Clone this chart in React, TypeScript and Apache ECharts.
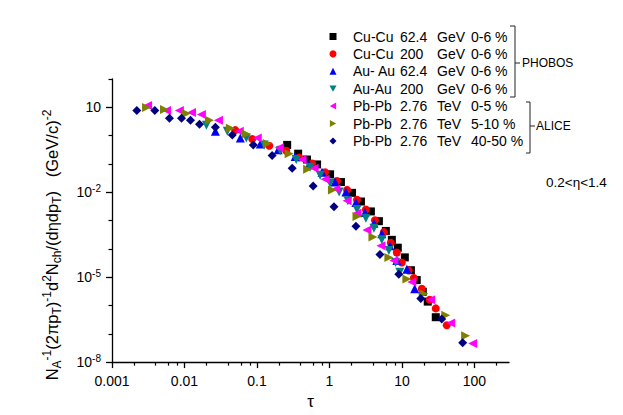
import React, { useEffect, useRef } from 'react';
import * as echarts from 'echarts';

const FONT = '"Liberation Sans", Arial, Helvetica, sans-serif';

// legend text columns
const legendParts: string[][] = [
  ['Cu-Cu', '62.4', 'GeV', '0-6 %'],
  ['Cu-Cu', '200', 'GeV', '0-6 %'],
  ['Au- Au', '62.4', 'GeV', '0-6 %'],
  ['Au-Au', '200', 'GeV', '0-6 %'],
  ['Pb-Pb', '2.76', 'TeV', '0-5 %'],
  ['Pb-Pb', '2.76', 'TeV', '5-10 %'],
  ['Pb-Pb', '2.76', 'TeV', '40-50 %'],
];
const seriesNames = legendParts.map((p) => p.join(' '));

// [tau, yield]
const cuCu62: number[][] = [
  [0.261, 0.47], [0.37, 0.23], [0.49, 0.143], [0.675, 0.096], [1.02, 0.043], [1.44, 0.0229],
  [2.05, 0.0095], [2.72, 0.0047], [3.73, 0.0021], [4.81, 0.00095], [6.0, 0.00043], [7.26, 0.000208],
  [8.77, 0.00011], [10.96, 5.0e-5], [13.3, 1.76e-5], [16.0, 7.9e-6], [19.4, 3.05e-6], [22.7, 1.37e-6],
  [29.3, 3.85e-7],
];
const cuCu200: number[][] = [
  [0.0503, 1.56], [0.086, 0.76], [0.148, 0.44], [0.253, 0.293], [0.382, 0.168], [0.577, 0.104],
  [0.87, 0.0508], [1.27, 0.0248], [1.75, 0.0121], [2.4, 0.00546], [3.18, 0.00246], [4.24, 0.00102],
  [5.64, 0.00039], [7.03, 0.000164], [8.5, 7.4e-5], [9.95, 3.3e-5], [12.4, 1.76e-5], [14.6, 9.3e-6],
  [18.8, 3.9e-6], [24.2, 1.6e-6], [29.3, 7.9e-7], [41.5, 2.0e-7],
];
const auAu62: number[][] = [
  [0.0267, 1.44], [0.0589, 0.83], [0.111, 0.51], [0.196, 0.32], [0.337, 0.182], [0.523, 0.096],
  [0.79, 0.0508], [1.19, 0.0229], [1.69, 0.0103], [2.32, 0.0043], [3.09, 0.00194], [4.11, 0.00081],
  [5.28, 0.00034], [6.82, 0.000129], [8.5, 3.9e-5], [11.7, 1.9e-5], [15.0, 3.9e-6],
];
const auAu200: number[][] = [
  [0.0201, 2.33], [0.039, 1.44], [0.0713, 0.83], [0.126, 0.47], [0.209, 0.293], [0.348, 0.143],
  [0.54, 0.076], [0.743, 0.04], [1.02, 0.0211], [1.36, 0.0103], [1.8, 0.005], [2.4, 0.00246],
  [3.18, 0.0012], [4.11, 0.00054], [5.28, 0.000208], [6.6, 8.7e-5], [8.17, 3.3e-5], [9.35, 1.5e-5],
];
const pbPb05: number[][] = [
  [0.0031, 11.5], [0.00565, 7.7], [0.0085, 7.7], [0.0125, 6.6], [0.0171, 5.6], [0.0294, 3.47],
  [0.057, 1.44], [0.101, 0.83], [0.203, 0.37], [0.42, 0.143], [0.614, 0.07], [0.87, 0.029],
  [1.23, 0.0131], [1.75, 0.005], [2.4, 0.0018], [3.29, 0.00046], [5.13, 0.000129], [7.74, 3.9e-5],
  [13.7, 6.8e-6], [25.0, 1.6e-6], [47.1, 2.4e-7], [94.4, 4.5e-8],
];
const pbPb510: number[][] = [
  [0.003, 9.8], [0.0053, 8.3], [0.01065, 6.05], [0.0221, 3.47], [0.043, 1.83], [0.0713, 1.14],
  [0.139, 0.53], [0.278, 0.23], [0.5, 0.065], [1.1, 0.0121], [2.4, 0.0014], [3.98, 0.000264],
  [6.6, 5.0e-5], [11.7, 8.6e-6], [20.0, 2.6e-6], [40.2, 4.5e-7], [75.7, 8.5e-8],
];
const pbPb4050: number[][] = [
  [0.0022, 7.7], [0.0039, 7.7], [0.0062, 4.1], [0.0091, 4.1], [0.0121, 3.47], [0.0161, 2.52],
  [0.0267, 1.99], [0.0457, 1.05], [0.089, 0.47], [0.162, 0.197], [0.306, 0.07], [0.596, 0.0166],
  [1.156, 0.0031], [2.32, 0.000635], [4.97, 6.3e-5], [9.06, 1.28e-5], [18.2, 1.75e-6], [35.4, 3.3e-7],
  [68.9, 4.8e-8],
];

const seriesData = [cuCu62, cuCu200, auAu62, auAu200, pbPb05, pbPb510, pbPb4050];
const seriesColors = ['#000000', '#ff0000', '#0000ff', '#008080', '#ff00ff', '#808000', '#000080'];
const seriesSymbols = [
  'rect',
  'circle',
  'triangle',
  'path://M0,0L10,0L5,9Z',
  'path://M9,0L9,10L0,5Z',
  'path://M0,0L0,10L9,5Z',
  'diamond',
];
const seriesSizes = [8, 8, 9, 9, 9, 9, 9];

// ticks
const xMajorTicks = [0.001, 0.01, 0.1, 1, 10, 100];
const xMinorTicks = [
  0.002, 0.004, 0.006, 0.008, 0.02, 0.04, 0.06, 0.08, 0.2, 0.4, 0.6, 0.8,
  2, 4, 6, 8, 20, 40, 60, 80, 200,
];
const yMajorTicks = [1e-8, 1e-5, 1e-2, 10];
const yMinorTicks = [1e-7, 1e-6, 1e-4, 1e-3, 0.1, 1, 100];

export default function App() {
  const ref = useRef<HTMLDivElement>(null);
  useEffect(() => {
    if (!ref.current) return;
    const chart = echarts.init(ref.current, null, { renderer: 'svg' });
    const axisCommon = {
      type: 'log' as const,
      logBase: 10,
      splitLine: { show: false },
      minorTick: { show: false },
      minorSplitLine: { show: false },
    };
    chart.setOption({
      animation: false,
      backgroundColor: '#ffffff',
      grid: { left: 112, right: 114, top: 79, bottom: 49, containLabel: false },
      xAxis: [
        {
          ...axisCommon,
          min: 0.001,
          max: 300,
          position: 'bottom',
          name: 'τ',
          nameLocation: 'middle',
          nameGap: 27,
          nameTextStyle: { fontSize: 17, fontFamily: FONT, color: '#000' },
          axisLine: { show: true, onZero: false, lineStyle: { color: '#000', width: 1.3 } },
          axisTick: { show: true, inside: false, length: 6, customValues: xMajorTicks, lineStyle: { color: '#000', width: 1.3 } },
          axisLabel: {
            show: true,
            customValues: xMajorTicks,
            margin: 12,
            fontSize: 14,
            fontFamily: FONT,
            color: '#000',
            formatter: (v: number) => String(v),
          },
        },
        {
          ...axisCommon,
          min: 0.001,
          max: 300,
          position: 'bottom',
          offset: 0,
          axisLine: { show: false, onZero: false },
          axisTick: { show: true, inside: false, length: 3.5, customValues: xMinorTicks, lineStyle: { color: '#000', width: 1.2 } },
          axisLabel: { show: false },
        },
      ],
      yAxis: [
        {
          ...axisCommon,
          min: 1e-8,
          max: 100,
          position: 'left',
          axisLine: { show: true, onZero: false, lineStyle: { color: '#000', width: 1.3 } },
          axisTick: { show: true, inside: false, length: 6, customValues: yMajorTicks, lineStyle: { color: '#000', width: 1.3 } },
          axisLabel: {
            show: true,
            customValues: yMajorTicks,
            margin: 11,
            fontSize: 14,
            fontFamily: FONT,
            color: '#000',
            formatter: (v: number) => {
              const e = Math.round(Math.log10(v));
              if (e === 1) return '{b|10}';
              return '{b|10}{p|' + String(e) + '}';
            },
            rich: {
              b: { fontSize: 14, fontFamily: FONT, color: '#000', lineHeight: 18 },
              p: { fontSize: 10, fontFamily: FONT, color: '#000', lineHeight: 10, verticalAlign: 'top' },
            },
          },
        },
        {
          ...axisCommon,
          min: 1e-8,
          max: 100,
          position: 'left',
          offset: 0,
          axisLine: { show: false, onZero: false },
          axisTick: { show: true, inside: false, length: 3.5, customValues: yMinorTicks, lineStyle: { color: '#000', width: 1.2 } },
          axisLabel: { show: false },
        },
      ],
      legend: {
        orient: 'vertical',
        left: 329.5,
        top: 29.5,
        padding: 0,
        itemWidth: 7,
        itemHeight: 7,
        itemGap: 3.4,
        selectedMode: false,
        data: seriesNames,
        formatter: (name: string) => {
          const p = legendParts[seriesNames.indexOf(name)];
          return '{a|' + p[0] + '}{b|' + p[1] + '}{c|' + p[2] + '}{d|' + p[3] + '}';
        },
        textStyle: {
          fontFamily: FONT,
          fontSize: 14,
          color: '#000',
          lineHeight: 14,
          padding: [0, 0, 0, 11.5],
          rich: {
            a: { width: 47, fontSize: 14, fontFamily: FONT, color: '#000', lineHeight: 14 },
            b: { width: 37, fontSize: 14, fontFamily: FONT, color: '#000', lineHeight: 14 },
            c: { width: 34, fontSize: 14, fontFamily: FONT, color: '#000', lineHeight: 14 },
            d: { fontSize: 14, fontFamily: FONT, color: '#000', lineHeight: 14 },
          },
        },
      },
      graphic: [
        {
          type: 'text',
          x: 52,
          y: 245,
          rotation: Math.PI / 2,
          style: {
            text:
              '{t|N}{s|A}{p|-1}{t|(2πp}{s|T}{t|)}{p|-1}{t|d}{p|2}{t|N}{s|ch}{t|/(dηdp}{s|T}{t|)\u00a0\u00a0\u00a0(GeV/c)}{p|-2}',
            align: 'center',
            verticalAlign: 'middle',
            rich: {
              t: { fontSize: 16.5, fontFamily: FONT, fill: '#000', lineHeight: 22 },
              s: { fontSize: 12, fontFamily: FONT, fill: '#000', lineHeight: 12, verticalAlign: 'bottom' },
              p: { fontSize: 12, fontFamily: FONT, fill: '#000', lineHeight: 12, verticalAlign: 'top' },
            },
          },
        },
        {
          type: 'polyline',
          shape: { points: [[510, 26], [515, 26], [515, 97], [510, 97]] },
          style: { stroke: '#222', lineWidth: 1, fill: 'none' },
        },
        {
          type: 'line',
          shape: { x1: 515, y1: 63, x2: 520, y2: 63 },
          style: { stroke: '#222', lineWidth: 1 },
        },
        {
          type: 'text',
          x: 522,
          y: 63,
          style: { text: 'PHOBOS', fontSize: 12, fontFamily: FONT, fill: '#000', align: 'left', verticalAlign: 'middle' },
        },
        {
          type: 'polyline',
          shape: { points: [[526, 102], [530, 102], [530, 153], [526, 153]] },
          style: { stroke: '#222', lineWidth: 1, fill: 'none' },
        },
        {
          type: 'line',
          shape: { x1: 530, y1: 126, x2: 535, y2: 126 },
          style: { stroke: '#222', lineWidth: 1 },
        },
        {
          type: 'text',
          x: 536,
          y: 126,
          style: { text: 'ALICE', fontSize: 12, fontFamily: FONT, fill: '#000', align: 'left', verticalAlign: 'middle' },
        },
        {
          type: 'text',
          x: 546,
          y: 182,
          style: { text: '0.2<η<1.4', fontSize: 13.5, fontFamily: FONT, fill: '#000', align: 'left', verticalAlign: 'middle' },
        },
      ],
      series: seriesNames.map((name, i) => ({
        type: 'scatter',
        name,
        xAxisIndex: 0,
        yAxisIndex: 0,
        data: seriesData[i],
        symbol: seriesSymbols[i],
        symbolSize: seriesSizes[i],
        itemStyle: { color: seriesColors[i], opacity: 1 },
        emphasis: { disabled: true },
      })),
    });
    return () => chart.dispose();
  }, []);
  return (
    <div
      ref={ref}
      style={{ position: 'absolute', left: 0, top: 0, width: 623, height: 415, background: '#fff' }}
    />
  );
}
